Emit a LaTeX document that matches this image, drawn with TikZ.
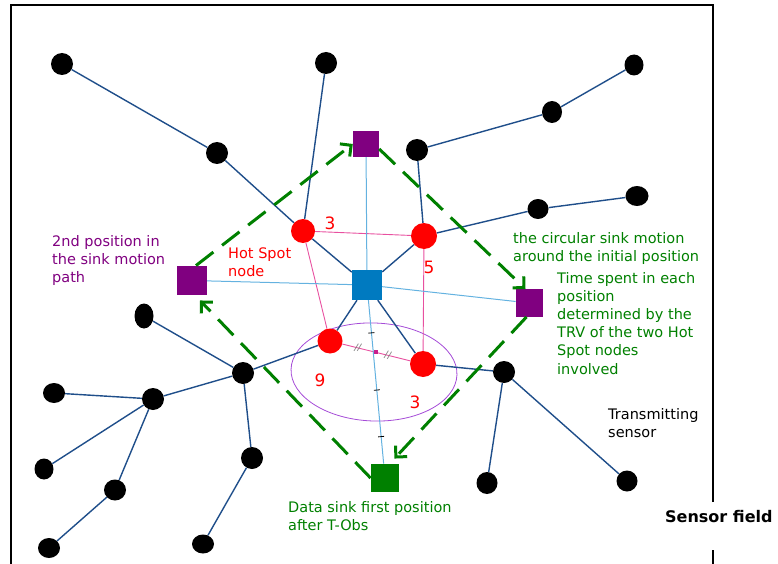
\documentclass[tikz,border=0pt]{standalone}
\usepackage{fontspec}
\setmainfont{DejaVu Sans}
\usetikzlibrary{arrows.meta,shapes.geometric}
\pgfdeclarelayer{back}
\pgfsetlayers{back,main}
\definecolor{edgeblue}{RGB}{31,78,138}
\definecolor{lightblue}{RGB}{100,178,224}
\definecolor{hotpink}{RGB}{232,80,160}
\definecolor{sinkpurple}{RGB}{128,0,128}
\definecolor{centerblue}{RGB}{0,122,192}
\definecolor{sinkgreen}{RGB}{0,128,0}
\definecolor{ellviolet}{RGB}{165,75,215}
\definecolor{midmag}{RGB}{200,30,140}
\begin{document}
\begin{tikzpicture}[x=1pt,y=-1pt,
 bn/.style={ellipse, fill=black, inner sep=0pt, minimum width=22pt, minimum height=22pt},
 hs/.style={circle, fill=red, inner sep=0pt, minimum size=#1},
 sq/.style={rectangle, inner sep=0pt, minimum size=#1},
 e/.style={draw=edgeblue, line width=1.4pt},
 lb/.style={draw=lightblue, line width=1pt},
 pk/.style={draw=hotpink, line width=0.9pt},
 mv/.style={draw=sinkgreen, line width=3pt, dash pattern=on 22pt off 11pt, -{Straight Barb[length=8pt,width=16pt]}},
 txt/.style={anchor=base west, inner sep=0pt, align=left, font=\fontsize{14.5}{17.6}\selectfont},
 num/.style={text=red, inner sep=0pt, font=\fontsize{17}{17}\selectfont},
 tick/.style={sloped, fill=black, inner sep=0pt, minimum width=0.8pt, minimum height=6pt},
 hash/.style={sloped, inner sep=0pt, text=gray, font=\fontsize{10}{10}\selectfont},
]
\useasboundingbox (0,0) rectangle (778,564);

% frame
\draw[line width=2.5pt, line join=miter] (713,502) -- (713,5) -- (11,5) -- (11,564);
\draw[line width=2.5pt] (713,550) -- (713,564);

% black sensors
\node[bn] (b1) at (62,64) {};
\node[bn] (b2) at (326,63) {};
\node[bn] (b3) at (217,153) {};
\node[bn, minimum width=19pt, minimum height=21pt] (b4) at (634,65) {};
\node[bn, minimum width=20pt] (b5) at (552,112) {};
\node[bn] (b6) at (417,150) {};
\node[bn, minimum width=23pt, minimum height=20pt] (b7) at (637,196) {};
\node[bn, minimum width=21pt, minimum height=20pt] (b8) at (538,209) {};
\node[bn] (b9) at (504,372) {};
\node[bn, minimum width=21pt] (b10) at (487,483) {};
\node[bn, minimum width=21pt, minimum height=21pt] (b11) at (627,481) {};
\node[bn, minimum width=19pt, minimum height=25pt] (b12) at (144,316) {};
\node[bn] (b13) at (243,373) {};
\node[bn] (b14) at (153,399) {};
\node[bn, minimum height=20pt] (b15) at (54,393) {};
\node[bn, minimum width=19pt, minimum height=21pt] (b16) at (44,469) {};
\node[bn, minimum height=21pt] (b17) at (115,490) {};
\node[bn, minimum height=20pt] (b18) at (49,548) {};
\node[bn] (b19) at (252,458) {};
\node[bn, minimum height=19pt] (b20) at (203,544) {};

% hot spots
\node[hs=24pt] (rl) at (303,231) {};
\node[hs=26pt] (rr) at (424,236) {};
\node[hs=25pt] (ll) at (330,341) {};
\node[hs=26pt] (lr) at (423,364) {};

% sink squares
\node[sq=30pt, fill=centerblue] (bc) at (367,285) {};
\node[sq=26pt, fill=sinkpurple] (pt) at (366,144) {};
\node[sq=29.5pt, fill=sinkpurple] (pl) at (192,280.5) {};
\node[sq=27.5pt, fill=sinkpurple] (pr) at (529.5,303) {};
\node[sq=28.5pt, fill=sinkgreen] (gs) at (385,478) {};

\begin{pgfonlayer}{back}
% ellipse
\draw[draw=ellviolet, line width=0.8pt, rotate around={-2:(374,372)}] (374,372) ellipse [x radius=83, y radius=49];
% dark blue tree edges
\draw[e] (b1) -- (b3);
\draw[e] (b3) -- (rl);
\draw[e] (b2) -- (rl);
\draw[e] (rl) -- (bc);
\draw[e] (b4) -- (b5);
\draw[e] (b5) -- (b6);
\draw[e] (b6) -- (rr);
\draw[e] (rr) -- (b8);
\draw[e] (b8) -- (b7);
\draw[e] (rr) -- (bc);
\draw[e] (bc) -- (ll);
\draw[e] (bc) -- (lr);
\draw[e] (ll) -- (b13);
\draw[e] (b13) -- (b12);
\draw[e] (b13) -- (b14);
\draw[e] (b13) -- (b19);
\draw[e] (b19) -- (b20);
\draw[e] (b14) -- (b15);
\draw[e] (b14) -- (b16);
\draw[e] (b14) -- (b17);
\draw[e] (b17) -- (b18);
\draw[e] (lr) -- (b9);
\draw[e] (b9) -- (b10);
\draw[e] (b9) -- (b11);
% pink links between hot spots
\draw[pk] (rl) -- (rr);
\draw[pk] (rl) -- (ll);
\draw[pk] (rr) -- (lr);
\draw[pk] (ll) -- (lr)
  node[hash, pos=0.23] (h1) {//}
  node[pos=0.5, fill=midmag, minimum size=4pt, inner sep=0pt] (mid) {}
  node[hash, pos=0.67] (h2) {//};
% light blue links
\draw[lb] (pt) -- (bc);
\draw[lb] (pl) -- (bc);
\draw[lb] (bc) -- (pr);
\draw[lb] (bc) -- (gs)
  node[tick, pos=0.2] (tk1) {}
  node[tick, pos=0.55] (tk2) {}
  node[tick, pos=0.835] (tk3) {};
\end{pgfonlayer}

% sink motion arrows
\draw[mv] ([xshift=4pt]pl.north) -- (pt.west);
\draw[mv] ([yshift=-5pt]pt.east) -- ([xshift=-4pt]pr.north);
\draw[mv] ([xshift=-3pt]pr.south) -- ([xshift=-5pt,yshift=5pt]gs.north east);
\draw[mv] (gs.west) -- ([xshift=8pt,yshift=-5pt]pl.south);

% numbers
\node[num] (n3a) at (330,223) {3};
\node[num] (n5) at (429,267) {5};
\node[num] (n9) at (320,380) {9};
\node[num] (n3b) at (415,402) {3};

% texts (anchored at the baseline of their last line)
\node[txt, text=sinkpurple] (t2nd) at (52,282) {2nd position in\\the sink motion\\path};
\node[txt, text=red] (thot) at (228,276) {Hot Spot\\node};
\node[txt, text=sinkgreen] (tcirc) at (513,261) {the circular sink motion\\around the initial position};
\node[txt, text=sinkgreen, font=\fontsize{14.5}{18.2}\selectfont] (ttime) at (557,374) {Time spent in each\\position\\determined by the\\TRV of the two Hot\\Spot nodes\\involved};
\node[txt] (ttr) at (608,437) {Transmitting\\sensor};
\node[txt, text=sinkgreen] (tdata) at (288,530) {Data sink first position\\after T-Obs};
\node[anchor=base west, inner sep=0pt, font=\fontsize{16}{16}\selectfont\bfseries] (tsf) at (665,522) {Sensor field};
\end{tikzpicture}
\end{document}
